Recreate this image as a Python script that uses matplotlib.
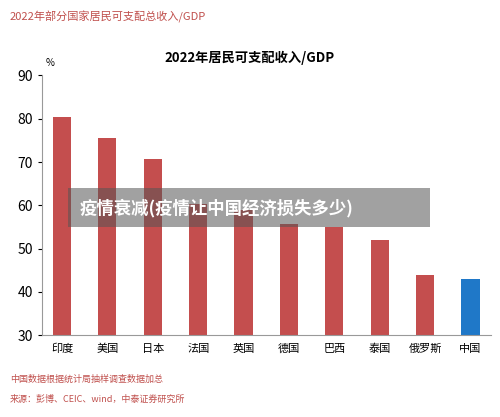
import matplotlib
matplotlib.use("Agg")
import matplotlib.pyplot as plt
from matplotlib.patches import Rectangle

plt.rcParams['font.family'] = ['Noto Sans CJK SC', 'DejaVu Sans']

countries = ["印度", "美国", "日本", "法国", "英国", "德国", "巴西", "泰国", "俄罗斯", "中国"]
values = [80.3, 75.5, 70.8, 60.3, 59.0, 55.8, 55.0, 52.0, 44.0, 43.0]
colors = ["#c44e4e"] * 9 + ["#1f78c8"]

fig = plt.figure(figsize=(5.0, 4.17), dpi=100)
ax = fig.add_axes([0.084, 0.196, 0.898, 0.623])
ax.bar(range(len(countries)), values, width=0.4, color=colors, zorder=2)
ax.set_ylim(30, 90)
ax.set_xlim(-0.44, 9.45)
ax.set_yticks(range(30, 91, 10))
ax.set_xticks(range(len(countries)))
ax.set_xticklabels(countries, fontsize=8)
ax.tick_params(axis='y', labelsize=10, length=3)
ax.tick_params(axis='x', length=0, pad=6)
for s in ['top', 'right']:
    ax.spines[s].set_visible(False)
ax.spines['bottom'].set_color('#999999')
ax.spines['left'].set_color('#999999')

fig.text(0.02, 0.975, "2022年部分国家居民可支配总收入/GDP", fontsize=8, color='#c0504d', va='top')
fig.text(0.5, 0.862, "2022年居民可支配收入/GDP", fontsize=9.5, fontweight='bold', ha='center', va='center')
fig.text(0.1, 0.848, "%", fontsize=7, ha='center', va='center')
fig.text(0.02, 0.09, "中国数据根据统计局抽样调查数据加总", fontsize=6.5, color='#c0504d', va='center')
fig.text(0.02, 0.043, "来源：彭博、CEIC、wind，中泰证券研究所", fontsize=6.5, color='#c0504d', va='center')

fig.patches.append(Rectangle((0.136, 0.455), 0.724, 0.093, transform=fig.transFigure,
                             facecolor='#555555', alpha=0.55, edgecolor='none', zorder=5))
fig.text(0.16, 0.502, "疫情衰减(疫情让中国经济损失多少)", fontsize=12.5, fontweight='bold',
         color='white', va='center', zorder=6)

fig.savefig("out.png", dpi=100)
